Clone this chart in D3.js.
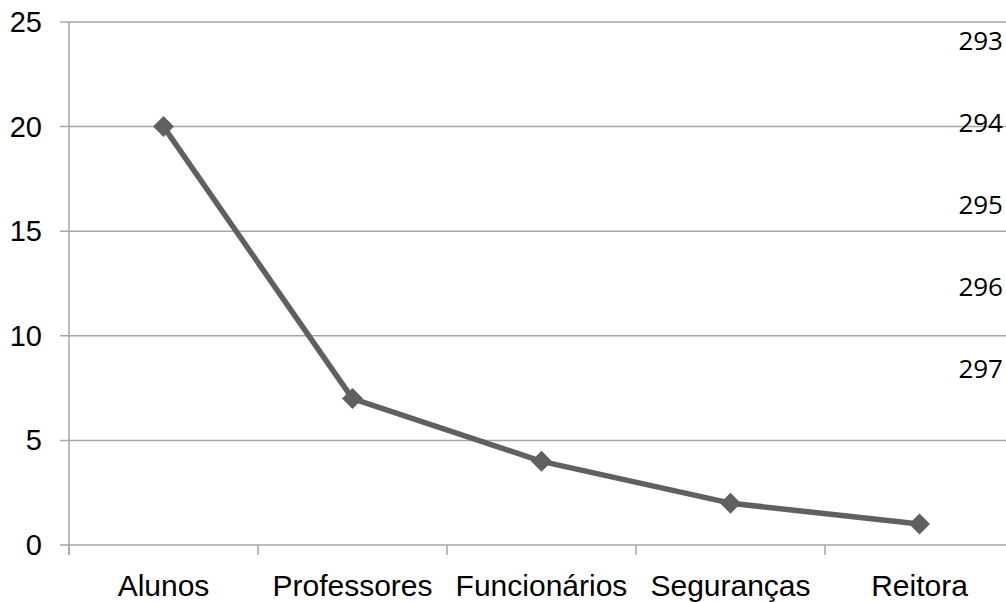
<!DOCTYPE html>
<html>
<head>
<meta charset="utf-8">
<script src="https://cdn.jsdelivr.net/npm/d3@7"></script>
<style>
  body { margin: 0; background: #fff; }
  svg { display: block; }
</style>
</head>
<body>
<svg id="chart" width="1006" height="602"></svg>
<script>
// data
const categories = ['Alunos', 'Professores', 'Funcionários', 'Seguranças', 'Reitora']
const values = [20, 7, 4, 2, 1]
const yTicks = [0, 5, 10, 15, 20, 25]
const sideLabels = ['293', '294', '295', '296', '297']

const svg = d3.select('#chart')
const plotLeft = 69, plotTop = 22, plotBottom = 545
const band = 189

// x: one band per category, the last band runs past the right edge
let x = d3.scaleBand()
  .domain(categories)
  .range([plotLeft, plotLeft + band * categories.length])
  .padding(0)

let y = d3.scaleLinear()
  .domain([0, 25])
  .range([plotBottom, plotTop])

// horizontal grid
svg.append('g')
  .selectAll('line')
  .data(yTicks)
  .join('line')
  .attr('x1', plotLeft - 9)
  .attr('x2', 1006)
  .attr('y1', d => y(d))
  .attr('y2', d => y(d))
  .attr('stroke', '#a6a6a6')
  .attr('stroke-width', 1.5)

// y axis line
svg.append('line')
  .attr('x1', plotLeft).attr('x2', plotLeft)
  .attr('y1', y(25)).attr('y2', y(0) + 10)
  .attr('stroke', '#a6a6a6')
  .attr('stroke-width', 1.5)

// y tick labels
svg.append('g')
  .selectAll('text')
  .data(yTicks)
  .join('text')
  .attr('x', 42)
  .attr('y', d => y(d) + 10)
  .attr('text-anchor', 'end')
  .attr('font-family', 'Liberation Sans, Arial, sans-serif')
  .attr('font-size', 29)
  .attr('fill', '#000')
  .text(d => d)

// x tick marks at band edges
const edges = categories.map(c => x(c))
svg.append('g')
  .selectAll('line')
  .data(edges)
  .join('line')
  .attr('x1', d => d).attr('x2', d => d)
  .attr('y1', y(0)).attr('y2', y(0) + 10)
  .attr('stroke', '#a6a6a6')
  .attr('stroke-width', 1.5)

// category labels
svg.append('g')
  .selectAll('text')
  .data(categories)
  .join('text')
  .attr('x', d => x(d) + x.bandwidth() / 2)
  .attr('y', 596)
  .attr('text-anchor', 'middle')
  .attr('font-family', 'Liberation Sans, Arial, sans-serif')
  .attr('font-size', 30)
  .attr('fill', '#000')
  .text(d => d)

// the series line
const line = d3.line()
  .x((d, i) => x(categories[i]) + x.bandwidth() / 2)
  .y(d => y(d))

svg.append('path')
  .datum(values)
  .attr('d', line)
  .attr('fill', 'none')
  .attr('stroke', '#606060')
  .attr('stroke-width', 5.5)
  .attr('stroke-linejoin', 'round')

// diamond markers
svg.append('g')
  .selectAll('path')
  .data(values)
  .join('path')
  .attr('d', d3.symbol().type(d3.symbolDiamond2).size(280))
  .attr('transform', (d, i) => `translate(${x(categories[i]) + x.bandwidth() / 2},${y(d)})`)
  .attr('fill', '#606060')

// stray numbers on the right
svg.append('g')
  .selectAll('text')
  .data(sideLabels)
  .join('text')
  .attr('x', 1003)
  .attr('y', (d, i) => 50 + i * 82)
  .attr('text-anchor', 'end')
  .attr('font-family', 'Open Sans, Noto Sans, sans-serif')
  .attr('font-size', 26)
  .attr('fill', '#000')
  .text(d => d)
</script>
</body>
</html>
